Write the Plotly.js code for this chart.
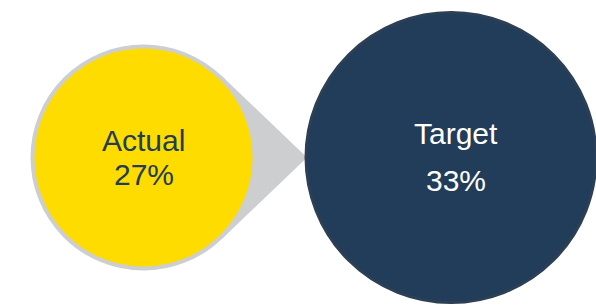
<!DOCTYPE html>
<html>
<head>
<meta charset="utf-8">
<script src="https://cdn.plot.ly/plotly-3.0.1.min.js"></script>
<style>html,body{margin:0;padding:0;background:#fff;}#chart{width:596px;height:308px;}</style>
</head>
<body>
<div id="chart"></div>
<script>
// Data
const categories = ['Actual', 'Target'];
const values = [27, 33];
const valueLabels = values.map(v => v + '%');

// Styling / layout constants
const W = 596, H = 308;
const pxCenters = [143.5, 451];   // pixel x of category centers
const pxMidY = 157.5;
const unit = pxCenters[1] - pxCenters[0];
const xr = [-pxCenters[0] / unit, (W - pxCenters[0]) / unit];
const yr = [-(H - pxMidY), pxMidY];
const toX = px => (px - pxCenters[0]) / unit;
const toY = py => pxMidY - py;

const fillColors = ['#FFDC00', '#223D59'];
const lineColors = ['#CDCED0', '#2C3F55'];
const sizes = [222, 290];
const lineWidths = [4, 3];

// teardrop pointer (decoration), built from the first circle geometry
const rOuter = sizes[0] / 2 + lineWidths[0] / 2;
const tipPx = 307;
const d = tipPx - pxCenters[0];
const th = Math.acos(rOuter / d);
const tx = pxCenters[0] + rOuter * Math.cos(th);
const ty1 = pxMidY - rOuter * Math.sin(th);
const ty2 = pxMidY + rOuter * Math.sin(th);
const pointer = {
  type: 'scatter', mode: 'lines', fill: 'toself', fillcolor: '#CDCED0',
  line: {width: 0, color: '#CDCED0'}, hoverinfo: 'skip',
  x: [toX(pxCenters[0]), toX(tx), toX(tipPx), toX(tx), toX(pxCenters[0])],
  y: [0, toY(ty1), toY(pxMidY), toY(ty2), 0]
};

const circles = {
  type: 'scatter', mode: 'markers',
  x: categories.map((c, i) => i),
  y: categories.map(() => 0),
  marker: {symbol: 'circle', size: sizes, color: fillColors,
           line: {color: lineColors, width: lineWidths}, opacity: 1},
  hoverinfo: 'skip'
};

const textColors = ['#223D59', '#FFFFFF'];
const nameShift = [17.5, 24];
const valShift = [-16.5, -22.5];
const xShift = [0, 5];
const annotations = [];
categories.forEach((c, i) => {
  annotations.push({x: i, y: 0, xref: 'x', yref: 'y', text: c, showarrow: false,
    xanchor: 'center', yanchor: 'middle', yshift: nameShift[i], xshift: xShift[i],
    font: {family: 'Liberation Sans, Arial, sans-serif', size: 30, color: textColors[i]}});
  annotations.push({x: i, y: 0, xref: 'x', yref: 'y', text: valueLabels[i], showarrow: false,
    xanchor: 'center', yanchor: 'middle', yshift: valShift[i], xshift: xShift[i],
    font: {family: 'Liberation Sans, Arial, sans-serif', size: 30, color: textColors[i]}});
});

const layout = {
  width: W, height: H,
  margin: {l: 0, r: 0, t: 0, b: 0},
  paper_bgcolor: '#FFFFFF', plot_bgcolor: '#FFFFFF',
  showlegend: false,
  xaxis: {range: xr, visible: false, fixedrange: true},
  yaxis: {range: yr, visible: false, fixedrange: true},
  annotations: annotations
};

Plotly.newPlot('chart', [pointer, circles], layout, {staticPlot: true, displayModeBar: false});
</script>
</body>
</html>
